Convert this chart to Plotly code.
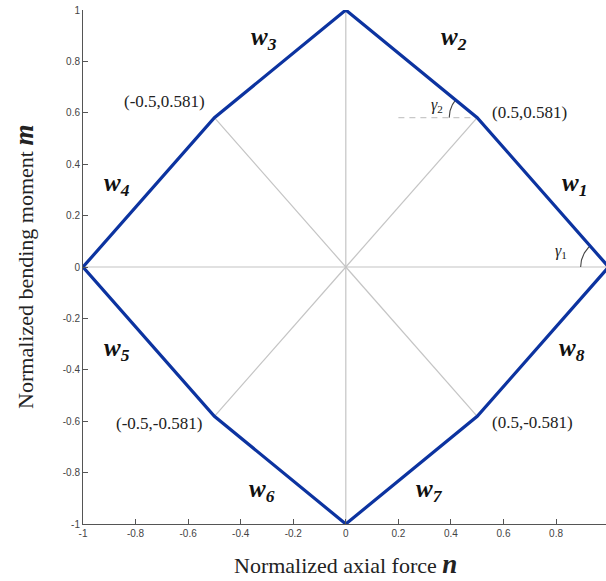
import numpy as np
import plotly.graph_objects as go

# Yield surface vertices (normalized axial force n, normalized bending moment m)
n_vals = [1.0, 0.5, 0.0, -0.5, -1.0, -0.5, 0.0, 0.5]
m_vals = [0.0, 0.581, 1.0, 0.581, 0.0, -0.581, -1.0, -0.581]

# Facet labels and their positions
facet_names = ["w<sub>1</sub>", "w<sub>2</sub>", "w<sub>3</sub>", "w<sub>4</sub>",
               "w<sub>5</sub>", "w<sub>6</sub>", "w<sub>7</sub>", "w<sub>8</sub>"]
facet_n = [0.87, 0.41, -0.31, -0.87, -0.87, -0.32, 0.32, 0.86]
facet_m = [0.32, 0.89, 0.89, 0.32, -0.32, -0.87, -0.87, -0.32]

# Corner labels
corner_text = ["(0.5,0.581)", "(-0.5,0.581)", "(-0.5,-0.581)", "(0.5,-0.581)"]
corner_n = [0.70, -0.69, -0.71, 0.71]
corner_m = [0.602, 0.645, -0.61, -0.605]

tick_vals = [-1, -0.8, -0.6, -0.4, -0.2, 0, 0.2, 0.4, 0.6, 0.8, 1]
tick_text = ["-1", "-0.8", "-0.6", "-0.4", "-0.2", "0", "0.2", "0.4", "0.6", "0.8", "1"]

X_RANGE = [-1, 0.99]
Y_RANGE = [-1, 1]
W, H = 606, 581
M = dict(l=83, r=0, t=10, b=57)
px_x = (W - M["l"] - M["r"]) / (X_RANGE[1] - X_RANGE[0])
px_y = (H - M["t"] - M["b"]) / (Y_RANGE[1] - Y_RANGE[0])

BLUE = "#0c33a0"
SPOKE = "#c4c4c4"
SERIF = "Liberation Serif"

fig = go.Figure()

# Spokes from origin to every vertex
for n, m in zip(n_vals, m_vals):
    fig.add_trace(go.Scatter(x=[0, n], y=[0, m], mode="lines",
                             line=dict(color=SPOKE, width=1.2),
                             hoverinfo="skip", showlegend=False))

# Dashed horizontal reference at the upper-right corner
fig.add_trace(go.Scatter(x=[0.2, n_vals[1]], y=[m_vals[1], m_vals[1]], mode="lines",
                         line=dict(color="#c8c8c8", width=1.2, dash="6px,5px"),
                         hoverinfo="skip", showlegend=False))


def angle_arc(ci, ni, r_px=28):
    """Arc at vertex ci from the leftward horizontal to the edge towards vertex ni."""
    cx, cy = n_vals[ci], m_vals[ci]
    dx = (n_vals[ni] - cx) * px_x
    dy = (m_vals[ni] - cy) * px_y
    a_end = np.arctan2(dy, dx)
    t = np.linspace(np.pi, a_end, 30)
    return cx + r_px * np.cos(t) / px_x, cy + r_px * np.sin(t) / px_y


for ci, ni in [(0, 1), (1, 2)]:
    ax, ay = angle_arc(ci, ni)
    fig.add_trace(go.Scatter(x=ax, y=ay, mode="lines",
                             line=dict(color="#444444", width=1.1),
                             hoverinfo="skip", showlegend=False))

# Interaction polygon
fig.add_trace(go.Scatter(x=n_vals + [n_vals[0]], y=m_vals + [m_vals[0]], mode="lines",
                         line=dict(color=BLUE, width=3.2),
                         hoverinfo="skip", showlegend=False))

annotations = []
for txt, n, m in zip(facet_names, facet_n, facet_m):
    annotations.append(dict(x=n, y=m, text="<b><i>" + txt + "</i></b>", showarrow=False,
                            font=dict(family=SERIF, size=25, color="#111111")))
for txt, n, m in zip(corner_text, corner_n, corner_m):
    annotations.append(dict(x=n, y=m, text=txt, showarrow=False,
                            font=dict(family=SERIF, size=17, color="#222222")))
annotations.append(dict(x=0.818, y=0.06, text="<i>γ</i><sub>1</sub>", showarrow=False,
                        font=dict(family=SERIF, size=16, color="#222222")))
annotations.append(dict(x=0.346, y=0.63, text="<i>γ</i><sub>2</sub>", showarrow=False,
                        font=dict(family=SERIF, size=16, color="#222222")))

# Axis titles (paper coordinates, outside the plotting area)
big = '<span style="font-size:27px"><b><i>{}</i></b></span>'
annotations.append(dict(x=0.501, y=-0.078, xref="paper", yref="paper",
                        xanchor="center", yanchor="middle",
                        text="Normalized axial force " + big.format("n"),
                        showarrow=False, font=dict(family=SERIF, size=22, color="#222222")))
annotations.append(dict(x=-0.113, y=0.5, xref="paper", yref="paper",
                        xanchor="center", yanchor="middle",
                        text="Normalized bending moment " + big.format("m"),
                        textangle=-90, showarrow=False,
                        font=dict(family=SERIF, size=22, color="#222222")))

axis_common = dict(
    tickvals=tick_vals, ticktext=tick_text, ticks="inside", ticklen=5,
    tickcolor="#555555", showline=True, linecolor="#555555", linewidth=1,
    showgrid=False, zeroline=False, mirror=False,
    tickfont=dict(family="Liberation Sans", size=10, color="#444444"),
)

fig.update_layout(
    width=W, height=H, margin=M,
    paper_bgcolor="white", plot_bgcolor="white",
    xaxis=dict(range=X_RANGE, **axis_common),
    yaxis=dict(range=Y_RANGE, **axis_common),
    annotations=annotations,
    showlegend=False,
)

fig.write_html("out.html", config={"displayModeBar": False})
